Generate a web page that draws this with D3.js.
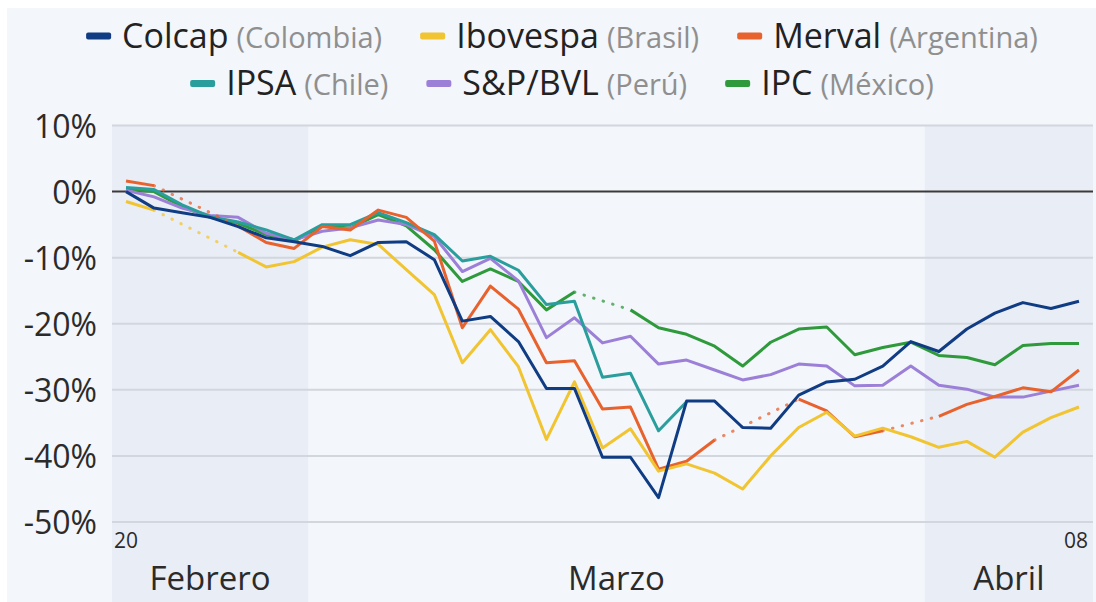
<!DOCTYPE html>
<html><head><meta charset="utf-8">
<script src="https://cdn.jsdelivr.net/npm/d3@7"></script>
<style>
body{margin:0;background:#fff}
svg{display:block;font-family:'Open Sans',sans-serif}
</style>
</head><body>
<svg id="c" width="1096" height="602"></svg>
<script>
// ---- data ----
const dates = ["02-20","02-21","02-24","02-25","02-26","02-27","02-28",
  "03-02","03-03","03-04","03-05","03-06","03-09","03-10","03-11","03-12","03-13",
  "03-16","03-17","03-18","03-19","03-20","03-23","03-24","03-25","03-26","03-27","03-30","03-31",
  "04-01","04-02","04-03","04-06","04-07","04-08"];
const months = ["Febrero","Marzo","Abril"];
const monthKeys = ["02","03","04"];
const yTicks = [10,0,-10,-20,-30,-40,-50];
const xEdgeLabels = ["20","08"];

const names = ["Colcap","Ibovespa","Merval","IPSA","S&P/BVL","IPC"];
const countries = ["(Colombia)","(Brasil)","(Argentina)","(Chile)","(Perú)","(México)"];
const colors = ["#103c84","#f1c431","#e8622e","#2a9e9c","#9c80d8","#2e9a3b"];

const colcap = [0,-2.5,-3.2,-3.9,-5.3,-7.0,-7.6,-8.3,-9.7,-7.7,-7.6,-10.3,-19.6,-18.9,-22.7,-29.8,-29.8,-40.2,-40.2,-46.3,-31.7,-31.7,-35.7,-35.8,-30.8,-28.8,-28.4,-26.4,-22.7,-24.2,-20.8,-18.4,-16.8,-17.7,-16.6];
const ibovespa = [-1.5,-2.8,null,null,-9.2,-11.4,-10.6,-8.4,-7.3,-8.0,-11.8,-15.6,-25.9,-20.9,-26.5,-37.5,-28.8,-38.8,-35.9,-42.3,-41.2,-42.6,-45.0,-40.0,-35.7,-33.4,-37.0,-35.8,-37.1,-38.7,-37.8,-40.2,-36.4,-34.2,-32.6];
const merval = [1.6,0.9,null,null,-5.2,-7.7,-8.6,-5.3,-5.8,-2.8,-3.9,-7.5,-20.6,-14.3,-17.8,-25.9,-25.6,-32.9,-32.6,-42.0,-40.8,-37.6,null,null,-31.4,-33.2,-37.1,-36.2,null,-34.0,-32.2,-31.0,-29.7,-30.3,-27.0];
const ipsa = [0.6,0.3,-2.0,-3.8,-4.6,-5.8,-7.3,-5.0,-5.0,-3.2,-4.7,-6.5,-10.5,-9.8,-11.9,-17.1,-16.6,-28.1,-27.5,-36.2,-31.8,null,null,null,null,null,null,null,null,null,null,null,null,null,null];
const spbvl = [0.2,-0.8,-2.5,-3.6,-3.9,-6.3,-7.3,-6.0,-5.5,-4.3,-5.0,-6.8,-12.1,-10.1,-13.5,-22.1,-19.1,-22.9,-21.9,-26.1,-25.5,-27.0,-28.5,-27.7,-26.1,-26.4,-29.4,-29.3,-26.4,-29.3,-29.9,-31.1,-31.1,-30.2,-29.3];
const ipc = [0.4,0.0,-2.3,-3.9,-4.8,-6.5,-7.5,-5.2,-5.5,-3.5,-5.2,-8.8,-13.6,-11.7,-13.6,-17.9,-15.2,null,-17.9,-20.6,-21.6,-23.4,-26.4,-22.8,-20.8,-20.5,-24.7,-23.6,-22.8,-24.8,-25.1,-26.2,-23.3,-23.0,-23.0];
const values = [colcap, ibovespa, merval, ipsa, spbvl, ipc];

// ---- chart ----
const svg = d3.select("#c");
svg.append("rect").attr("x",7).attr("y",8).attr("width",1089).attr("height",594).attr("fill","#f3f6fa");

const x = d3.scaleBand().domain(dates).range([112,1093]);
const px = d => x(d) + x.bandwidth()/2;
const y = d3.scaleLinear().domain([-50,10]).range([522,125.5]);

// month shading
const monthRanges = monthKeys.map(k => {
  const ds = dates.filter(d => d.startsWith(k));
  return {x0: x(ds[0]), x1: x(ds[ds.length-1]) + x.bandwidth()};
});
[0,2].forEach(i => {
  svg.append("rect").attr("x",monthRanges[i].x0).attr("y",y(10))
    .attr("width",monthRanges[i].x1-monthRanges[i].x0).attr("height",602-y(10))
    .attr("fill","#e9edf5");
});

// grid
svg.append("g").selectAll("line").data(yTicks.filter(t=>t!==0)).join("line")
  .attr("x1",112).attr("x2",1093).attr("y1",d=>y(d)).attr("y2",d=>y(d))
  .attr("stroke","#d2d6dd").attr("stroke-width",2);

// y axis labels
const ya = svg.append("g").attr("transform","translate(97,0)")
  .call(d3.axisLeft(y).tickValues(yTicks).tickFormat(d=>d+"%").tickSize(0).tickPadding(0));
ya.select(".domain").remove();
ya.selectAll("text").attr("font-size",32).attr("font-family","'Open Sans',sans-serif")
  .attr("fill","#2b2b2b").attr("dy","0.36em");

// x labels
svg.append("text").attr("x",px(dates[0])).attr("y",548).attr("text-anchor","middle")
  .attr("font-size",21).attr("fill","#2b2b2b").text(xEdgeLabels[0]);
svg.append("text").attr("x",px(dates[dates.length-1])-3).attr("y",548).attr("text-anchor","middle")
  .attr("font-size",21).attr("fill","#2b2b2b").text(xEdgeLabels[1]);
months.forEach((m,i) => {
  svg.append("text").attr("x",(monthRanges[i].x0+monthRanges[i].x1)/2).attr("y",590)
    .attr("text-anchor","middle").attr("font-size",33).attr("fill","#2b2b2b").text(m);
});

// lines
const line = d3.line().defined(d => d.v != null).x(d => px(d.d)).y(d => y(d.v));
const order = [5,4,3,2,1,0];
const gl = svg.append("g");
order.forEach(si => {
  const pts = dates.map((d,i) => ({d, v: values[si][i]}));
  const defined = pts.filter(p => p.v != null);
  for (let k = 1; k < defined.length; k++) {
    const ia = dates.indexOf(defined[k-1].d), ib = dates.indexOf(defined[k].d);
    if (ib - ia > 1) {
      gl.append("path").attr("d", d3.line().x(p=>px(p.d)).y(p=>y(p.v))([defined[k-1], defined[k]]))
        .attr("fill","none").attr("stroke",colors[si]).attr("stroke-width",3)
        .attr("stroke-dasharray","0.5 9.5").attr("stroke-linecap","round").attr("opacity",0.75);
    }
  }
  gl.append("path").attr("d", line(pts)).attr("fill","none").attr("stroke",colors[si])
    .attr("stroke-width",3).attr("stroke-linejoin","round");
});

// zero line
svg.append("line").attr("x1",112).attr("x2",1093).attr("y1",y(0)).attr("y2",y(0))
  .attr("stroke","#3a3a3a").attr("stroke-width",2);
gl.raise();

// legend
const rows = [[0,1,2],[3,4,5]];
const baselines = [47.5, 95];
rows.forEach((row, ri) => {
  const g = svg.append("g");
  let cx = 0;
  row.forEach((si, k) => {
    if (k > 0) cx += 38;
    g.append("rect").attr("x",cx).attr("y",baselines[ri]-15).attr("width",25).attr("height",7)
      .attr("rx",2).attr("fill",colors[si]);
    cx += 36;
    const t1 = g.append("text").attr("x",cx).attr("y",baselines[ri]).attr("font-size",34)
      .attr("fill","#222").text(names[si]);
    cx += t1.node().getComputedTextLength() + 8;
    const t2 = g.append("text").attr("x",cx).attr("y",baselines[ri]).attr("font-size",29)
      .attr("fill","#8f8f8f").text(countries[si]);
    cx += t2.node().getComputedTextLength();
  });
  g.attr("transform", `translate(${562 - cx/2},0)`);
});
</script>
</body></html>
